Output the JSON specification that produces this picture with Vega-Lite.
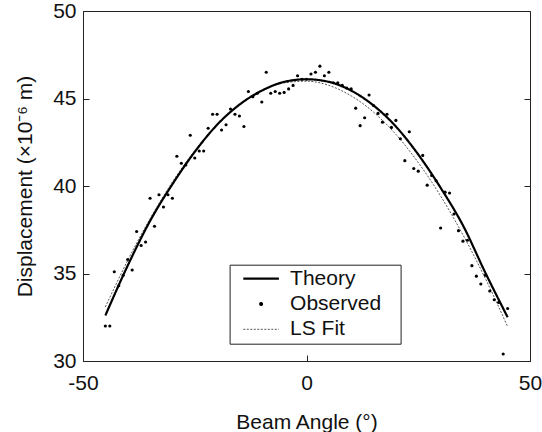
{
  "$schema": "https://vega.github.io/schema/vega-lite/v6.json",
  "width": 447,
  "height": 350,
  "autosize": {"type": "none"},
  "padding": {"left": 83, "top": 11, "right": 12, "bottom": 71},
  "background": "white",
  "config": {
    "font": "Liberation Sans",
    "view": {"stroke": "#222", "strokeWidth": 1},
    "axis": {
      "grid": false,
      "labelFlush": false,
      "domainColor": "#222",
      "tickColor": "#222",
      "labelColor": "#111",
      "titleColor": "#111",
      "labelFontSize": 21,
      "titleFontSize": 21,
      "titleFontWeight": "normal",
      "labelFont": "Liberation Sans",
      "titleFont": "Liberation Sans"
    }
  },
  "data": {
    "values": [
      {"series": "LS Fit", "angle": -45, "disp": 33.09},
      {"series": "LS Fit", "angle": -40, "disp": 35.75},
      {"series": "LS Fit", "angle": -35, "disp": 38.13},
      {"series": "LS Fit", "angle": -30, "disp": 40.23},
      {"series": "LS Fit", "angle": -25, "disp": 42.02},
      {"series": "LS Fit", "angle": -20, "disp": 43.49},
      {"series": "LS Fit", "angle": -15, "disp": 44.63},
      {"series": "LS Fit", "angle": -10, "disp": 45.43},
      {"series": "LS Fit", "angle": -5, "disp": 45.89},
      {"series": "LS Fit", "angle": 0, "disp": 45.99},
      {"series": "LS Fit", "angle": 5, "disp": 45.75},
      {"series": "LS Fit", "angle": 10, "disp": 45.15},
      {"series": "LS Fit", "angle": 15, "disp": 44.22},
      {"series": "LS Fit", "angle": 20, "disp": 42.95},
      {"series": "LS Fit", "angle": 25, "disp": 41.34},
      {"series": "LS Fit", "angle": 30, "disp": 39.43},
      {"series": "LS Fit", "angle": 35, "disp": 37.21},
      {"series": "LS Fit", "angle": 40, "disp": 34.72},
      {"series": "LS Fit", "angle": 45, "disp": 31.96},
      {"series": "Theory", "angle": -45, "disp": 32.6},
      {"series": "Theory", "angle": -40, "disp": 35.45},
      {"series": "Theory", "angle": -35, "disp": 38.0},
      {"series": "Theory", "angle": -30, "disp": 40.1},
      {"series": "Theory", "angle": -25, "disp": 41.95},
      {"series": "Theory", "angle": -20, "disp": 43.5},
      {"series": "Theory", "angle": -15, "disp": 44.65},
      {"series": "Theory", "angle": -10, "disp": 45.45},
      {"series": "Theory", "angle": -5, "disp": 45.95},
      {"series": "Theory", "angle": 0, "disp": 46.1},
      {"series": "Theory", "angle": 5, "disp": 45.95},
      {"series": "Theory", "angle": 10, "disp": 45.45},
      {"series": "Theory", "angle": 15, "disp": 44.6},
      {"series": "Theory", "angle": 20, "disp": 43.4},
      {"series": "Theory", "angle": 25, "disp": 41.8},
      {"series": "Theory", "angle": 30, "disp": 39.9},
      {"series": "Theory", "angle": 35, "disp": 37.75},
      {"series": "Theory", "angle": 40, "disp": 35.05},
      {"series": "Theory", "angle": 45, "disp": 32.5},
      {"series": "Observed", "angle": -45, "disp": 32.0},
      {"series": "Observed", "angle": -44, "disp": 32.0},
      {"series": "Observed", "angle": -43, "disp": 35.1},
      {"series": "Observed", "angle": -42, "disp": 34.3},
      {"series": "Observed", "angle": -41, "disp": 34.9},
      {"series": "Observed", "angle": -40, "disp": 35.8},
      {"series": "Observed", "angle": -39, "disp": 35.2},
      {"series": "Observed", "angle": -38, "disp": 37.4},
      {"series": "Observed", "angle": -37, "disp": 36.6},
      {"series": "Observed", "angle": -36, "disp": 36.8},
      {"series": "Observed", "angle": -35, "disp": 39.3},
      {"series": "Observed", "angle": -34, "disp": 37.7},
      {"series": "Observed", "angle": -33, "disp": 39.5},
      {"series": "Observed", "angle": -32, "disp": 38.8},
      {"series": "Observed", "angle": -31, "disp": 39.5},
      {"series": "Observed", "angle": -30, "disp": 39.3},
      {"series": "Observed", "angle": -29, "disp": 41.7},
      {"series": "Observed", "angle": -28, "disp": 41.3},
      {"series": "Observed", "angle": -27, "disp": 41.2},
      {"series": "Observed", "angle": -26, "disp": 42.9},
      {"series": "Observed", "angle": -25, "disp": 41.6},
      {"series": "Observed", "angle": -24, "disp": 42.0},
      {"series": "Observed", "angle": -23, "disp": 42.0},
      {"series": "Observed", "angle": -22, "disp": 43.3},
      {"series": "Observed", "angle": -21, "disp": 44.1},
      {"series": "Observed", "angle": -20, "disp": 44.1},
      {"series": "Observed", "angle": -19, "disp": 43.2},
      {"series": "Observed", "angle": -18, "disp": 43.5},
      {"series": "Observed", "angle": -17, "disp": 44.4},
      {"series": "Observed", "angle": -16, "disp": 44.1},
      {"series": "Observed", "angle": -15, "disp": 44.0},
      {"series": "Observed", "angle": -14, "disp": 43.4},
      {"series": "Observed", "angle": -13, "disp": 45.4},
      {"series": "Observed", "angle": -12, "disp": 45.1},
      {"series": "Observed", "angle": -11, "disp": 45.3},
      {"series": "Observed", "angle": -10, "disp": 44.8},
      {"series": "Observed", "angle": -9, "disp": 46.5},
      {"series": "Observed", "angle": -8, "disp": 45.3},
      {"series": "Observed", "angle": -7, "disp": 45.4},
      {"series": "Observed", "angle": -6, "disp": 45.3},
      {"series": "Observed", "angle": -5, "disp": 45.35},
      {"series": "Observed", "angle": -4, "disp": 45.55},
      {"series": "Observed", "angle": -3, "disp": 45.75},
      {"series": "Observed", "angle": -2, "disp": 46.3},
      {"series": "Observed", "angle": -1, "disp": 46.1},
      {"series": "Observed", "angle": 0, "disp": 46.1},
      {"series": "Observed", "angle": 1, "disp": 46.4},
      {"series": "Observed", "angle": 2, "disp": 46.5},
      {"series": "Observed", "angle": 3, "disp": 46.85},
      {"series": "Observed", "angle": 4, "disp": 46.3},
      {"series": "Observed", "angle": 5, "disp": 46.5},
      {"series": "Observed", "angle": 6, "disp": 45.9},
      {"series": "Observed", "angle": 7, "disp": 45.9},
      {"series": "Observed", "angle": 8, "disp": 45.75},
      {"series": "Observed", "angle": 9, "disp": 45.6},
      {"series": "Observed", "angle": 10, "disp": 45.55},
      {"series": "Observed", "angle": 11, "disp": 44.45},
      {"series": "Observed", "angle": 12, "disp": 43.45},
      {"series": "Observed", "angle": 13, "disp": 43.9},
      {"series": "Observed", "angle": 14, "disp": 45.2},
      {"series": "Observed", "angle": 15, "disp": 44.6},
      {"series": "Observed", "angle": 16, "disp": 44.15},
      {"series": "Observed", "angle": 17, "disp": 43.65},
      {"series": "Observed", "angle": 18, "disp": 44.1},
      {"series": "Observed", "angle": 19, "disp": 43.35},
      {"series": "Observed", "angle": 20, "disp": 43.75},
      {"series": "Observed", "angle": 21, "disp": 42.7},
      {"series": "Observed", "angle": 22, "disp": 41.45},
      {"series": "Observed", "angle": 23, "disp": 43.1},
      {"series": "Observed", "angle": 24, "disp": 41.0},
      {"series": "Observed", "angle": 25, "disp": 40.85},
      {"series": "Observed", "angle": 26, "disp": 41.75},
      {"series": "Observed", "angle": 27, "disp": 40.05},
      {"series": "Observed", "angle": 28, "disp": 40.6},
      {"series": "Observed", "angle": 29, "disp": 40.3},
      {"series": "Observed", "angle": 30, "disp": 37.6},
      {"series": "Observed", "angle": 31, "disp": 39.65},
      {"series": "Observed", "angle": 32, "disp": 39.6},
      {"series": "Observed", "angle": 33, "disp": 38.4},
      {"series": "Observed", "angle": 34, "disp": 37.45},
      {"series": "Observed", "angle": 35, "disp": 36.85},
      {"series": "Observed", "angle": 36, "disp": 36.9},
      {"series": "Observed", "angle": 37, "disp": 35.45},
      {"series": "Observed", "angle": 38, "disp": 34.85},
      {"series": "Observed", "angle": 39, "disp": 34.4},
      {"series": "Observed", "angle": 40, "disp": 34.9},
      {"series": "Observed", "angle": 41, "disp": 34.0},
      {"series": "Observed", "angle": 42, "disp": 33.5},
      {"series": "Observed", "angle": 43, "disp": 33.35},
      {"series": "Observed", "angle": 44, "disp": 30.4},
      {"series": "Observed", "angle": 45, "disp": 33.0}
    ]
  },
  "resolve": {"axis": {"y": "independent"}},
  "layer": [
    {
      "transform": [{"filter": "datum.series !== 'Observed'"}],
      "mark": {"type": "line", "interpolate": "monotone"},
      "encoding": {
        "x": {
          "field": "angle", "type": "quantitative",
          "scale": {"domain": [-50, 50], "nice": false, "zero": false},
          "axis": {"title": "Beam Angle (°)", "values": [-50, 0, 50], "labelExpr": "'' + datum.value", "tickSize": -6, "labelPadding": 17, "titlePadding": 18}
        },
        "y": {
          "field": "disp", "type": "quantitative",
          "scale": {"domain": [30, 50], "nice": false, "zero": false},
          "axis": {"title": "Displacement (×10⁻⁶ m)", "values": [30, 35, 40, 45, 50], "tickSize": -6, "labelPadding": 13, "titlePadding": 17}
        },
        "color": {
          "field": "series", "type": "nominal",
          "scale": {"domain": ["Theory", "Observed", "LS Fit"], "range": ["#000000", "#000000", "#555555"]},
          "legend": {
            "title": null,
            "orient": "none",
            "legendX": 146.6,
            "legendY": 253.7,
            "padding": 3.5,
            "strokeColor": "#222",
            "fillColor": "white",
            "cornerRadius": 0,
            "symbolType": "stroke",
            "symbolSize": 1267,
            "symbolStrokeWidth": 1.5,
            "symbolOffset": 9,
            "labelOffset": 10,
            "clipHeight": 21,
            "rowPadding": 3.3,
            "labelFontSize": 21,
            "labelFont": "Liberation Sans",
            "labelColor": "#111",
            "labelExpr": "datum.label + '\u2800'",
            "encode": {
              "symbols": {
                "update": {
                  "shape": {"signal": "datum.value === 'Observed' ? 'M-0.07,0a0.07,0.07 0 1,0 0.14,0a0.07,0.07 0 1,0 -0.14,0' : 'stroke'"},
                  "strokeDash": {"signal": "datum.value === 'LS Fit' ? [2, 1.5] : [1, 0]"},
                  "fill": {"signal": "datum.value === 'Observed' ? 'black' : 'transparent'"},
                  "stroke": {"signal": "datum.value === 'LS Fit' ? '#555555' : 'black'"},
                  "opacity": {"value": 1}
                }
              }
            }
          }
        },
        "strokeDash": {
          "field": "series", "type": "nominal",
          "scale": {"domain": ["Theory", "Observed", "LS Fit"], "range": [[1, 0], [1, 0], [2, 1.5]]},
          "legend": null
        },
        "strokeWidth": {
          "field": "series", "type": "nominal",
          "scale": {"domain": ["Theory", "Observed", "LS Fit"], "range": [2.2, 1, 1]},
          "legend": null
        },
        "order": {"field": "angle", "type": "quantitative"}
      }
    },
    {
      "transform": [{"filter": "datum.series === 'Observed'"}],
      "mark": {"type": "point", "filled": true, "opacity": 1, "size": 10, "shape": "circle"},
      "encoding": {
        "x": {"field": "angle", "type": "quantitative"},
        "y": {
          "field": "disp", "type": "quantitative",
          "axis": {"orient": "right", "labels": false, "title": null, "domain": false, "values": [30, 35, 40, 45, 50], "tickSize": -6}
        },
        "color": {"field": "series", "type": "nominal"}
      }
    }
  ]
}
